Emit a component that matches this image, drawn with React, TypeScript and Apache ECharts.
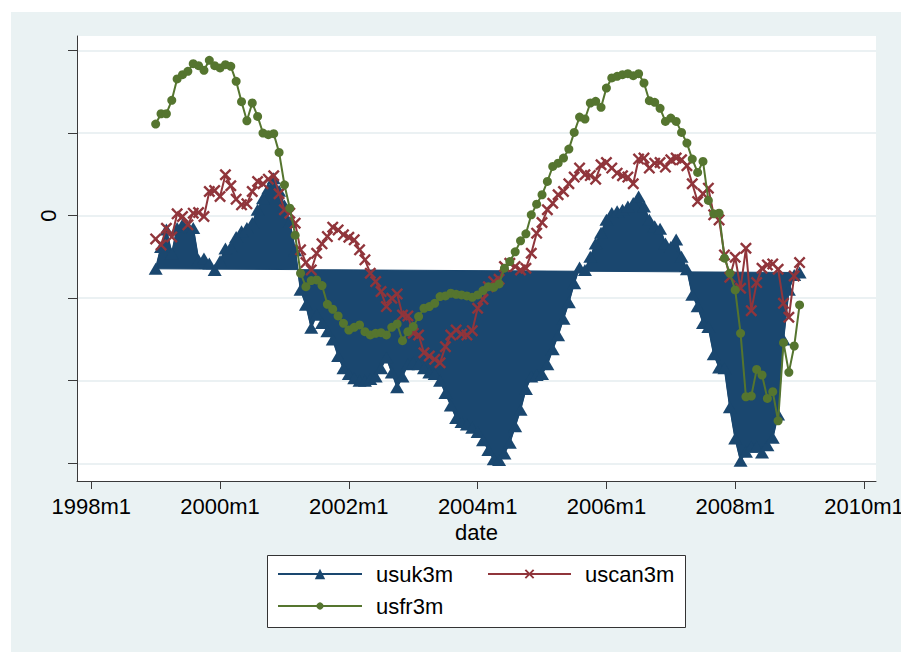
import React, { useEffect, useRef } from 'react';
import * as echarts from 'echarts';

// months counted from 1998m1; first observation is 1999m1
const START_MONTH = 12;

const usuk3m = [
  -0.645, -0.38, -0.17, -0.46, -0.15, -0.11, -0.13, -0.15, -0.54, -0.52,
  -0.58, -0.66, -0.55, -0.40, -0.38, -0.26, -0.19, -0.15, -0.09, 0.07,
  0.21, 0.33, 0.45, 0.30, 0.12, -0.08, -0.42, -0.90, -1.08, -1.36,
  -1.20, -1.30, -1.40, -1.50, -1.70, -1.85, -1.92, -1.97, -2.00, -2.00,
  -1.98, -1.95, -1.85, -1.72, -1.90, -2.08, -1.95, -1.80, -1.78, -1.80,
  -1.85, -1.90, -1.92, -2.00, -2.15, -2.30, -2.45, -2.50, -2.53, -2.57,
  -2.62, -2.72, -2.84, -2.95, -2.96, -2.88, -2.75, -2.55, -2.35, -2.10,
  -1.95, -1.93, -1.92, -1.80, -1.62, -1.45, -1.25, -1.05, -0.82, -0.63,
  -0.66, -0.50, -0.34, -0.21, -0.05, 0.03, 0.05, 0.07, 0.11, 0.15,
  0.23, 0.11, -0.05, -0.13, -0.16, -0.34, -0.38, -0.29, -0.50, -0.65,
  -0.96, -1.10, -1.30, -1.35, -1.68, -1.84, -1.85, -2.32, -2.70, -2.97,
  -2.86, -2.80, -2.80, -2.87, -2.78, -2.69, -2.41, -1.50, -0.90, -0.72,
  -0.69,
];

const uscan3m = [
  -0.283, -0.356, -0.154, -0.259, 0.02, -0.012, -0.113, 0.028, 0.036, -0.012,
  0.291, 0.303, 0.23, 0.493, 0.36, 0.198, 0.129, 0.141, 0.291, 0.412,
  0.384, 0.44, 0.481, 0.263, 0.069, 0.028, -0.093, -0.416, -0.57, -0.659,
  -0.457, -0.343, -0.255, -0.141, -0.174, -0.234, -0.263, -0.295, -0.416, -0.537,
  -0.699, -0.8, -0.921, -1.103, -1.002, -0.949, -1.204, -1.216, -1.426, -1.446,
  -1.661, -1.701, -1.741, -1.782, -1.588, -1.446, -1.386, -1.434, -1.446, -1.394,
  -1.123, -1.014, -0.861, -0.8, -0.772, -0.618, -0.578, -0.618, -0.659, -0.638,
  -0.457, -0.214, -0.085, 0.069, 0.149, 0.251, 0.291, 0.384, 0.465, 0.574,
  0.493, 0.483, 0.44, 0.614, 0.642, 0.574, 0.513, 0.481, 0.465, 0.384,
  0.683, 0.695, 0.574, 0.634, 0.642, 0.586, 0.675, 0.695, 0.675, 0.602,
  0.384, 0.17, 0.263, 0.331, 0.008, -0.053, -0.477, -0.747, -0.505, -0.881,
  -0.396, -1.152, -0.812, -0.638, -0.598, -0.586, -0.651, -1.063, -1.232, -0.731,
  -0.57,
];

const usfr3m = [
  1.107, 1.232, 1.232, 1.394, 1.653, 1.705, 1.745, 1.838, 1.814, 1.758,
  1.879, 1.814, 1.786, 1.826, 1.806, 1.624, 1.378, 1.147, 1.362, 1.2,
  0.998, 0.978, 0.99, 0.764, 0.372, 0.089, -0.238, -0.699, -0.861, -0.788,
  -0.78, -0.848, -1.075, -1.135, -1.216, -1.305, -1.386, -1.354, -1.325, -1.406,
  -1.446, -1.426, -1.418, -1.446, -1.354, -1.313, -1.515, -1.406, -1.345, -1.224,
  -1.123, -1.103, -1.063, -0.982, -0.974, -0.941, -0.954, -0.962, -0.974, -0.99,
  -0.962, -0.909, -0.861, -0.869, -0.828, -0.638, -0.558, -0.44, -0.307, -0.222,
  0.008, 0.137, 0.251, 0.412, 0.594, 0.634, 0.695, 0.804, 1.006, 1.192,
  1.168, 1.362, 1.382, 1.309, 1.543, 1.665, 1.685, 1.705, 1.717, 1.693,
  1.717, 1.604, 1.39, 1.37, 1.297, 1.139, 1.18, 1.139, 1.006, 0.877,
  0.683, 0.521, 0.655, 0.182, 0.02, 0.028, -0.517, -0.699, -0.901, -1.426,
  -2.194, -2.186, -1.863, -1.931, -2.214, -2.133, -2.485, -1.539, -1.899, -1.58,
  -1.083,
];

const xTickMonths = [0, 24, 48, 72, 96, 120, 144];
const xTickLabels = ['1998m1', '2000m1', '2002m1', '2004m1', '2006m1', '2008m1', '2010m1'];
const yTickValues = [-3, -2, -1, 0, 1, 2];
const yLabelValues = [0];

const X_MIN = -2.66;
const X_MAX = 146.24;
const Y_MIN = -3.214;
const Y_MAX = 2.173;

const NAVY = '#1a476f';
const MAROON = '#90353b';
const GREEN = '#55752f';
const BG = '#eaf2f3';
const GRID_LINE = '#e4ecef';
const AXIS = '#3a3a3a';
const FONT = '"Liberation Sans", Arial, sans-serif';

const XMARK =
  'path://M0,1.4L1.4,0L5,3.6L8.6,0L10,1.4L6.4,5L10,8.6L8.6,10L5,6.4L1.4,10L0,8.6L3.6,5Z';

const toPairs = (arr: number[]) => arr.map((v, i) => [START_MONTH + i, v]);

export default function App() {
  const ref = useRef<HTMLDivElement>(null);

  useEffect(() => {
    if (!ref.current) return;
    const chart = echarts.init(ref.current, null, { renderer: 'svg' });
    const ukPairs = toPairs(usuk3m);
    const canPairs = toPairs(uscan3m);
    const frPairs = toPairs(usfr3m);

    const legendText = {
      fontSize: 22,
      color: '#000',
      fontFamily: FONT,
      padding: [0, 0, 0, 9],
    };

    const option: any = {
      animation: false,
      backgroundColor: 'transparent',
      textStyle: { fontFamily: FONT },
      grid: {
        left: 77,
        top: 36,
        width: 799,
        height: 445,
        show: true,
        backgroundColor: '#ffffff',
        borderWidth: 0,
        containLabel: false,
        outerBoundsMode: 'none',
      },
      xAxis: {
        type: 'value',
        min: X_MIN,
        max: X_MAX,
        axisLine: { show: true, onZero: false, lineStyle: { color: AXIS, width: 1 } },
        axisTick: { show: true, customValues: xTickMonths, length: 8, lineStyle: { color: AXIS, width: 1 } },
        axisLabel: {
          customValues: xTickMonths,
          formatter: (v: number) => {
            const i = xTickMonths.indexOf(Math.round(v));
            return i >= 0 ? xTickLabels[i] : '';
          },
          fontSize: 22,
          color: '#000',
          fontFamily: FONT,
          margin: 14,
          hideOverlap: false,
        },
        splitLine: { show: false },
        name: 'date',
        nameLocation: 'middle',
        nameGap: 40,
        nameTextStyle: { fontSize: 22, color: '#000', fontFamily: FONT },
      },
      yAxis: {
        type: 'value',
        min: Y_MIN,
        max: Y_MAX,
        axisLine: { show: true, onZero: false, lineStyle: { color: AXIS, width: 1 } },
        axisTick: { show: true, customValues: yTickValues, length: 9, lineStyle: { color: AXIS, width: 1 } },
        axisLabel: {
          customValues: yLabelValues,
          formatter: (v: number) => (Math.abs(v) < 1e-9 ? '0' : ''),
          rotate: 90,
          fontSize: 22,
          color: '#000',
          fontFamily: FONT,
          margin: 18,
        },
        splitLine: { show: true, lineStyle: { color: GRID_LINE, width: 1.5 } },
      },
      legend: [
        {
          data: ['usuk3m'],
          left: 277,
          top: 563,
          padding: 0,
          itemWidth: 84,
          itemHeight: 13,
          selectedMode: false,
          textStyle: legendText,
        },
        {
          data: ['uscan3m'],
          left: 487,
          top: 563,
          padding: 0,
          itemWidth: 83,
          itemHeight: 12,
          selectedMode: false,
          textStyle: legendText,
        },
        {
          data: ['usfr3m'],
          left: 277,
          top: 595,
          padding: 0,
          itemWidth: 84,
          itemHeight: 9,
          selectedMode: false,
          textStyle: legendText,
        },
      ],
      graphic: [
        {
          type: 'rect',
          z: 0,
          shape: { x: 267.5, y: 555.5, width: 418, height: 72 },
          style: { fill: '#ffffff', stroke: '#333333', lineWidth: 1 },
          silent: true,
        },
      ],
      series: [
        {
          name: 'usuk3m-area',
          type: 'custom',
          coordinateSystem: 'cartesian2d',
          data: ukPairs,
          silent: true,
          clip: true,
          z: 1,
          renderItem: (params: any, api: any) => {
            if (params.dataIndex !== 0) return null;
            const pts = ukPairs.map((p) => api.coord(p));
            return {
              type: 'polygon',
              shape: { points: pts },
              style: { fill: NAVY, stroke: NAVY, lineWidth: 1 },
            };
          },
        },
        {
          name: 'usuk3m',
          type: 'line',
          data: ukPairs,
          symbol: 'triangle',
          symbolSize: [14, 12],
          showAllSymbol: true,
          itemStyle: { color: NAVY },
          lineStyle: { color: NAVY, width: 1.5 },
          z: 2,
        },
        {
          name: 'uscan3m',
          type: 'line',
          data: canPairs,
          symbol: XMARK,
          symbolSize: 12,
          showAllSymbol: true,
          itemStyle: { color: MAROON },
          lineStyle: { color: MAROON, width: 2 },
          z: 3,
        },
        {
          name: 'usfr3m',
          type: 'line',
          data: frPairs,
          symbol: 'circle',
          symbolSize: 9,
          showAllSymbol: true,
          itemStyle: { color: GREEN },
          lineStyle: { color: GREEN, width: 2 },
          z: 4,
        },
      ],
    };

    chart.setOption(option);
    return () => chart.dispose();
  }, []);

  return (
    <div
      style={{
        position: 'absolute',
        left: 0,
        top: 0,
        width: 901,
        height: 652,
        background: '#ffffff',
        overflow: 'hidden',
      }}
    >
      <div
        style={{ position: 'absolute', left: 11, top: 12, width: 890, height: 640, background: BG }}
      />
      <div ref={ref} style={{ position: 'absolute', left: 0, top: 0, width: 901, height: 652 }} />
    </div>
  );
}
